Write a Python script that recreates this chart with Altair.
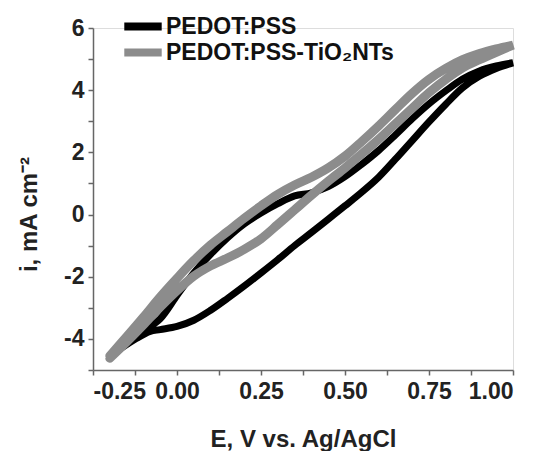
import altair as alt
import pandas as pd

# ---- data (E in V, i in mA cm^-2) ----
series_names = ["PEDOT:PSS", "PEDOT:PSS-TiO\u2082NTs"]
series_colors = ["#000000", "#8c8c8c"]

# PEDOT:PSS forward (anodic) scan
pss_fwd_E = [-0.20, -0.15, -0.10, -0.05, 0.00, 0.05, 0.10, 0.15, 0.20, 0.25, 0.30, 0.35, 0.40,
             0.45, 0.50, 0.55, 0.60, 0.65, 0.70, 0.75, 0.80, 0.85, 0.90, 0.95, 1.00]
pss_fwd_i = [-4.55, -4.15, -3.75, -3.35, -2.60, -1.88, -1.28, -0.75, -0.30, 0.05, 0.35, 0.60, 0.70,
             0.90, 1.22, 1.62, 2.06, 2.56, 3.08, 3.56, 3.98, 4.36, 4.62, 4.78, 4.88]
# PEDOT:PSS reverse (cathodic) scan
pss_rev_E = [1.00, 0.95, 0.90, 0.85, 0.80, 0.75, 0.70, 0.65, 0.60, 0.55, 0.50, 0.45, 0.40, 0.35,
             0.30, 0.25, 0.20, 0.15, 0.10, 0.05, 0.00, -0.05, -0.08, -0.12, -0.20]
pss_rev_i = [4.88, 4.70, 4.45, 4.08, 3.55, 2.98, 2.38, 1.78, 1.20, 0.72, 0.28, -0.15, -0.58, -1.00,
             -1.45, -1.88, -2.30, -2.70, -3.08, -3.40, -3.60, -3.70, -3.76, -3.98, -4.55]

# PEDOT:PSS-TiO2NTs forward scan
tio_fwd_E = [-0.20, -0.15, -0.10, -0.05, 0.00, 0.05, 0.10, 0.15, 0.20, 0.25, 0.30, 0.35, 0.40,
             0.45, 0.50, 0.55, 0.60, 0.65, 0.70, 0.75, 0.80, 0.85, 0.90, 0.95, 1.00]
tio_fwd_i = [-4.55, -3.93, -3.30, -2.65, -2.05, -1.48, -0.98, -0.55, -0.12, 0.28, 0.65, 0.95, 1.20,
             1.50, 1.88, 2.35, 2.85, 3.38, 3.90, 4.35, 4.70, 4.98, 5.18, 5.33, 5.45]
# PEDOT:PSS-TiO2NTs reverse scan
tio_rev_E = [1.00, 0.95, 0.90, 0.85, 0.80, 0.75, 0.70, 0.65, 0.60, 0.55, 0.50, 0.45, 0.40, 0.35,
             0.30, 0.25, 0.20, 0.15, 0.10, 0.05, 0.00, -0.05, -0.10, -0.15, -0.20]
tio_rev_i = [5.45, 5.22, 4.98, 4.72, 4.35, 3.92, 3.42, 2.92, 2.42, 1.95, 1.50, 1.07, 0.62, 0.15,
             -0.32, -0.78, -1.12, -1.40, -1.65, -1.98, -2.45, -2.98, -3.55, -4.10, -4.62]

x_ticks = [-0.25, -0.125, 0.0, 0.125, 0.25, 0.375, 0.5, 0.625, 0.75, 0.875, 1.0]
y_ticks = [-5, -4, -3, -2, -1, 0, 1, 2, 3, 4, 5, 6]

rows = []
for name, E_list, i_list in [
    (series_names[0], pss_fwd_E + pss_rev_E, pss_fwd_i + pss_rev_i),
    (series_names[1], tio_fwd_E + tio_rev_E, tio_fwd_i + tio_rev_i),
]:
    for k, (e, c) in enumerate(zip(E_list, i_list)):
        rows.append({"series": name, "E": e, "i": c, "order": k})
df = pd.DataFrame(rows)

FONT = "Liberation Sans"
AX = dict(
    grid=False,
    domainColor="#666666",
    domainWidth=1.5,
    tickColor="#666666",
    tickWidth=1.5,
    tickSize=5,
    labelFont=FONT,
    labelFontWeight="bold",
    labelFontSize=23,
    labelColor="#222222",
    titleFont=FONT,
    titleFontWeight="bold",
    titleFontSize=24,
    titleColor="#222222",
)

x_enc = alt.X(
    "E:Q",
    scale=alt.Scale(domain=[-0.25, 1.0], nice=False, zero=False),
    axis=alt.Axis(
        values=x_ticks,
        labelExpr="abs(datum.value*4 - round(datum.value*4)) < 0.001 ? "
                  "(datum.value < 0 ? '-' + format(-datum.value, '.2f') : format(datum.value, '.2f')) : ''",
        title="E, V vs. Ag/AgCl",
        titlePadding=24,
        labelPadding=5,
        labelOverlap=False,
        **AX,
    ),
)
y_enc = alt.Y(
    "i:Q",
    scale=alt.Scale(domain=[-5, 6], nice=False, zero=False),
    axis=alt.Axis(
        values=y_ticks,
        labelExpr="datum.value % 2 == 0 ? (datum.value < 0 ? '-' + format(-datum.value, 'd') : format(datum.value, 'd')) : ''",
        title="i, mA cm\u207b\u00b2",
        titlePadding=22,
        titleY=186,
        labelPadding=4,
        labelOverlap=False,
        **AX,
    ),
)
color_enc = alt.Color(
    "series:N",
    scale=alt.Scale(domain=series_names, range=series_colors),
    legend=alt.Legend(
        orient="none",
        legendX=27,
        legendY=-14.5,
        title=None,
        symbolType="stroke",
        symbolSize=1400,
        symbolStrokeWidth=8,
        labelFontSize=23,
        labelFont=FONT,
        labelFontWeight="bold",
        labelColor="#111111",
        labelOffset=0,
        labelLimit=400,
        clipHeight=26,
        rowPadding=0,
        padding=0,
    ),
)

black = alt.Chart(df).transform_filter(
    alt.datum.series == series_names[0]
).mark_line(strokeWidth=7, interpolate="catmull-rom", strokeCap="round").encode(
    x=x_enc, y=y_enc, color=color_enc, order="order:Q"
)
gray = alt.Chart(df).transform_filter(
    alt.datum.series == series_names[1]
).mark_line(strokeWidth=9, interpolate="catmull-rom", strokeCap="round").encode(
    x=x_enc, y=y_enc, color=color_enc, order="order:Q"
)

chart = alt.layer(black, gray).properties(
    width=420,
    height=342,
    autosize="none",
    padding={"left": 93, "top": 28, "right": 27, "bottom": 81},
).configure_view(
    stroke=None
).configure(background="white")

chart.save("out.html", embed_options={"renderer": "svg", "actions": False})
